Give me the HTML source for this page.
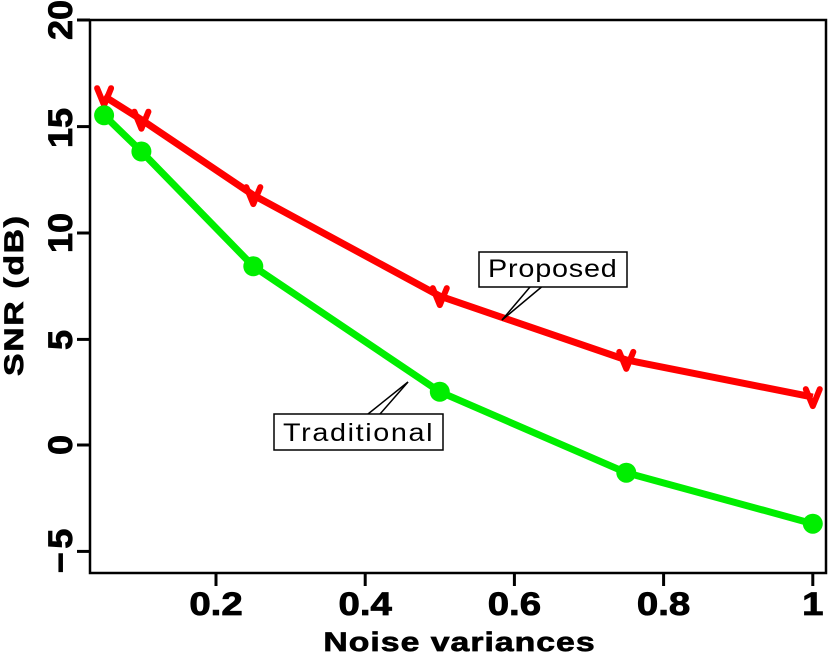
<!DOCTYPE html>
<html>
<head>
<meta charset="utf-8">
<style>
  html, body { margin:0; padding:0; background:#fff; }
  svg { display:block; }
  .tick { font-family:"Liberation Sans", sans-serif; font-weight:bold; font-size:32px; fill:#000; stroke:#000; stroke-width:0.8; }
  .lab { font-family:"Liberation Sans", sans-serif; font-weight:bold; fill:#000; stroke:#000; stroke-width:0.7; }
  .ann { font-family:"Liberation Sans", sans-serif; font-size:25px; fill:#000; }
</style>
</head>
<body>
<svg width="828" height="657" viewBox="0 0 828 657" xmlns="http://www.w3.org/2000/svg">
  <rect x="0" y="0" width="828" height="657" fill="#fff"/>

  <!-- axes frame -->
  <rect x="90" y="20" width="736" height="553" fill="none" stroke="#000" stroke-width="2.5"/>

  <!-- y ticks -->
  <g stroke="#000" stroke-width="3">
    <line x1="77" y1="20" x2="90" y2="20"/>
    <line x1="77" y1="126.6" x2="90" y2="126.6"/>
    <line x1="77" y1="233" x2="90" y2="233"/>
    <line x1="77" y1="339.4" x2="90" y2="339.4"/>
    <line x1="77" y1="445" x2="90" y2="445"/>
    <line x1="77" y1="551.4" x2="90" y2="551.4"/>
  </g>
  <!-- x ticks -->
  <g stroke="#000" stroke-width="3">
    <line x1="216" y1="573" x2="216" y2="586"/>
    <line x1="365.2" y1="573" x2="365.2" y2="586"/>
    <line x1="514.4" y1="573" x2="514.4" y2="586"/>
    <line x1="663.6" y1="573" x2="663.6" y2="586"/>
    <line x1="812.8" y1="573" x2="812.8" y2="586"/>
  </g>

  <!-- y tick labels -->
  <g class="tick" text-anchor="middle" style="font-size:34px">
    <text transform="translate(72,20) rotate(-90) scale(1.06,1)">20</text>
    <text transform="translate(72,128) rotate(-90) scale(1.06,1)">15</text>
    <text transform="translate(72,233) rotate(-90) scale(1.06,1)">10</text>
    <text transform="translate(72,340) rotate(-90) scale(1.06,1)">5</text>
    <text transform="translate(72,445) rotate(-90) scale(1.06,1)">0</text>
    <text transform="translate(72,551) rotate(-90) scale(1.06,1)" textLength="42" lengthAdjust="spacing">−5</text>
  </g>

  <!-- x tick labels -->
  <g class="tick" text-anchor="middle">
    <text transform="translate(216,615) scale(1.2,1)">0.2</text>
    <text transform="translate(365.2,615) scale(1.2,1)">0.4</text>
    <text transform="translate(514.4,615) scale(1.2,1)">0.6</text>
    <text transform="translate(663.6,615) scale(1.2,1)">0.8</text>
    <text transform="translate(812.8,615) scale(1.2,1)">1</text>
  </g>

  <!-- axis labels -->
  <text class="lab" transform="translate(459,651) scale(1.25,1)" font-size="27" text-anchor="middle" textLength="217" lengthAdjust="spacing">Noise variances</text>
  <text class="lab" transform="translate(23,296) rotate(-90) scale(1.25,1)" font-size="27" text-anchor="middle" textLength="128" lengthAdjust="spacing">SNR (dB)</text>

  <!-- red series -->
  <polyline fill="none" stroke="#ff0000" stroke-width="7" stroke-linejoin="round"
    points="104.1,96.2 141.4,119.7 253.3,195.1 439.8,296.1 626.3,359.9 812.8,397.1"/>
  <g fill="none" stroke="#ff0000" stroke-width="6" stroke-linejoin="round" stroke-linecap="round">
    <path d="M-7,-8 L0,9 L7,-8" transform="translate(104.1,96.2)"/>
    <path d="M-7,-8 L0,9 L7,-8" transform="translate(141.4,119.7)"/>
    <path d="M-7,-8 L0,9 L7,-8" transform="translate(253.3,195.1)"/>
    <path d="M-7,-8 L0,9 L7,-8" transform="translate(439.8,296.1)"/>
    <path d="M-7,-8 L0,9 L7,-8" transform="translate(626.3,359.9)"/>
    <path d="M-7,-8 L0,9 L7,-8" transform="translate(812.8,397.1)"/>
  </g>

  <!-- green series -->
  <polyline fill="none" stroke="#00ee00" stroke-width="7" stroke-linejoin="round"
    points="104.1,115.3 141.4,151.5 253.3,266.3 439.8,391.8 626.3,472.7 812.8,523.7"/>
  <g fill="#00ee00">
    <circle cx="104.1" cy="115.3" r="10"/>
    <circle cx="141.4" cy="151.5" r="10"/>
    <circle cx="253.3" cy="266.3" r="10"/>
    <circle cx="439.8" cy="391.8" r="10"/>
    <circle cx="626.3" cy="472.7" r="10"/>
    <circle cx="812.8" cy="523.7" r="10"/>
  </g>

  <!-- Proposed annotation -->
  <g stroke="#000" stroke-width="1.5" fill="none">
    <line x1="530" y1="287" x2="502" y2="320"/>
    <line x1="541.5" y1="287" x2="502" y2="320"/>
  </g>
  <rect x="479" y="252" width="148" height="35" fill="#fff" stroke="#000" stroke-width="1.5"/>
  <text class="ann" transform="translate(488,277) scale(1.15,1)" textLength="112" lengthAdjust="spacing">Proposed</text>

  <!-- Traditional annotation -->
  <g stroke="#000" stroke-width="1.5" fill="none">
    <line x1="368" y1="414" x2="408" y2="382"/>
    <line x1="380" y1="414" x2="408" y2="382"/>
  </g>
  <rect x="274" y="414" width="169" height="36" fill="#fff" stroke="#000" stroke-width="1.5"/>
  <text class="ann" transform="translate(283,441) scale(1.15,1)" textLength="130" lengthAdjust="spacing">Traditional</text>
</svg>
</body>
</html>
